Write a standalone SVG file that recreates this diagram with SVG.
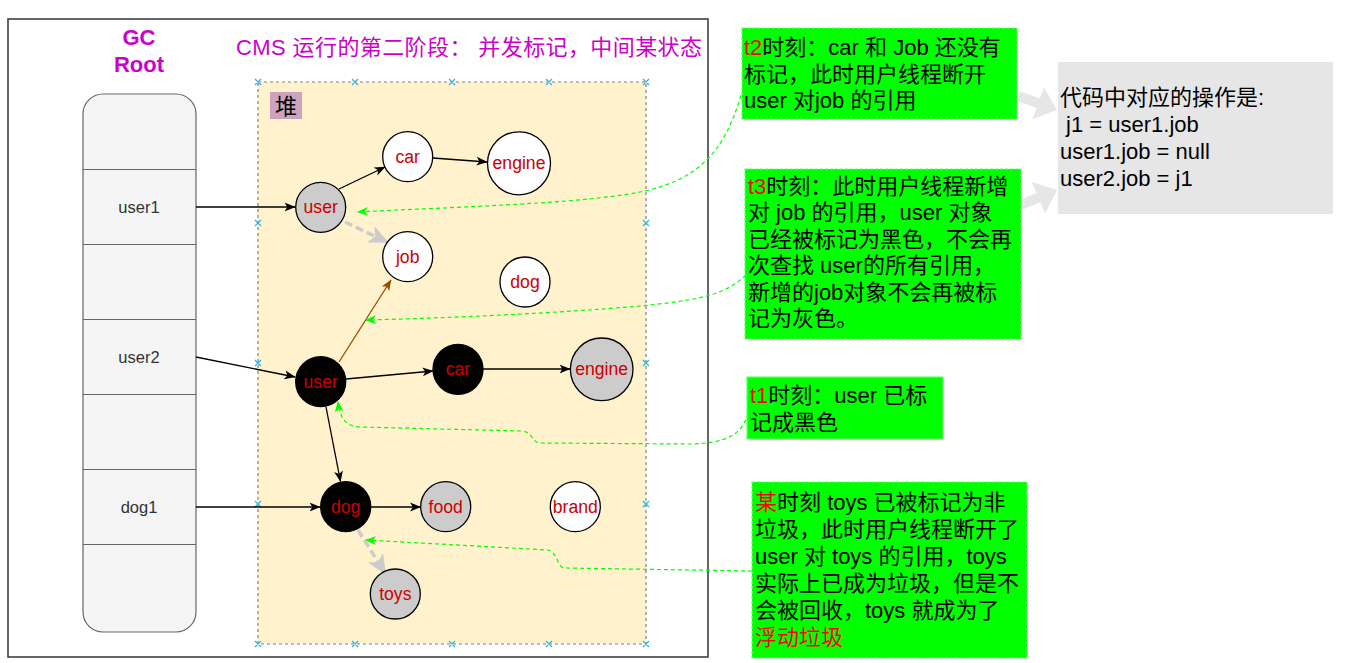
<svg xmlns="http://www.w3.org/2000/svg" width="1348" height="663" viewBox="0 0 1348 663">
<style>
.t{font-family:"Liberation Sans","Noto Sans CJK SC",sans-serif;}
.big{font-size:22px;fill:#000;}
.lbl{font-size:17.6px;fill:#CC0000;text-anchor:middle;}
.stk{font-size:16.5px;fill:#333;text-anchor:middle;}
.red{fill:#FF0000;}
.c{stroke:#000;stroke-width:1.3;}
.e{fill:none;stroke:#000;stroke-width:1.3;marker-end:url(#ab);}
.g{fill:none;stroke:#00FF00;stroke-width:1.2;stroke-dasharray:4 3;marker-end:url(#ag);}
.gd{fill:none;stroke:#CCCCCC;stroke-width:3.5;stroke-dasharray:8 4;marker-end:url(#agr);}
.gb{fill:#00FF00;stroke:#66FF66;stroke-width:1.2;stroke-dasharray:3 2;}
.mk{stroke:#29B6F2;stroke-width:1.3;fill:none;}
</style>
<defs>
<marker id="ab" viewBox="0 0 10 10" refX="9.5" refY="5" markerWidth="11" markerHeight="11" markerUnits="userSpaceOnUse" orient="auto"><path d="M0,1 L10,5 L0,9 L2.5,5 Z" fill="#000"/></marker>
<marker id="abr" viewBox="0 0 10 10" refX="9.5" refY="5" markerWidth="11" markerHeight="11" markerUnits="userSpaceOnUse" orient="auto"><path d="M0,1 L10,5 L0,9 L2.5,5 Z" fill="#994C00"/></marker>
<marker id="ag" viewBox="0 0 10 10" refX="9" refY="5" markerWidth="11" markerHeight="11" markerUnits="userSpaceOnUse" orient="auto"><path d="M0,1 L10,5 L0,9 L2.5,5 Z" fill="#00FF00"/></marker>
<marker id="agr" viewBox="0 0 10 10" refX="9" refY="5" markerWidth="20" markerHeight="20" markerUnits="userSpaceOnUse" orient="auto"><path d="M0,0.5 L10,5 L0,9.5 L2.5,5 Z" fill="#CCCCCC"/></marker>
</defs>

<rect x="8" y="19" width="700" height="638" fill="#fff" stroke="#333" stroke-width="1.5"/>

<g id="title"><text class="t" x="236" y="55" font-size="22" fill="#CC00CC" textLength="466" lengthAdjust="spacing">CMS 运行的第二阶段： 并发标记，中间某状态</text></g>

<g id="gcroot">
<text class="t" x="139" y="45" font-size="22" font-weight="bold" fill="#CC00CC" text-anchor="middle">GC</text>
<text class="t" x="139" y="72" font-size="22" font-weight="bold" fill="#CC00CC" text-anchor="middle">Root</text>
</g>

<g id="stack">
<rect x="83" y="94" width="113" height="538" rx="20" fill="#F5F5F5" stroke="#666" stroke-width="1.2"/>
<path d="M83 169.5H196M83 244.5H196M83 319.5H196M83 394.5H196M83 469.5H196M83 544.5H196" stroke="#666" stroke-width="1.2"/>
<text class="t stk" x="139" y="213">user1</text>
<text class="t stk" x="139" y="363">user2</text>
<text class="t stk" x="139" y="513">dog1</text>
</g>

<g id="heap">
<rect x="258" y="82" width="388" height="562" fill="#FFF2CC" stroke="#808080" stroke-width="1.2" stroke-dasharray="3 3"/>
<rect x="270" y="92" width="32" height="27" fill="#CDA2BE"/>
<text class="t" x="275" y="114" font-size="22" fill="#000">堆</text>
<g class="mk">
<path d="M255 79l6 6m0-6l-6 6M352 79l6 6m0-6l-6 6M449 79l6 6m0-6l-6 6M546 79l6 6m0-6l-6 6M643 79l6 6m0-6l-6 6"/>
<path d="M255 641l6 6m0-6l-6 6M352 641l6 6m0-6l-6 6M449 641l6 6m0-6l-6 6M546 641l6 6m0-6l-6 6M643 641l6 6m0-6l-6 6"/>
<path d="M255 220l6 6m0-6l-6 6M255 360l6 6m0-6l-6 6M255 501l6 6m0-6l-6 6"/>
<path d="M643 220l6 6m0-6l-6 6M643 360l6 6m0-6l-6 6M643 501l6 6m0-6l-6 6"/>
</g>
</g>

<g id="connectors">
<path class="e" d="M196 207H295"/>
<path class="e" d="M339 189L385 167"/>
<path class="e" d="M433 158L487 162"/>
<path class="gd" d="M345 222L387 242"/>
<path class="e" d="M196 357L295 377"/>
<path class="e" d="M346 379L433 371"/>
<path class="e" d="M483 369H570"/>
<path fill="none" stroke="#994C00" stroke-width="1.3" marker-end="url(#abr)" d="M339 362L391 280"/>
<path class="e" d="M326 407L340.5 481.5"/>
<path class="e" d="M196 507H320"/>
<path class="e" d="M371 507H420.5"/>
<path class="gd" d="M358 530L385 573"/>
<path class="g" d="M741 95C725 150 700 180 640 192C580 204 450 207 358 212"/>
<path class="g" d="M746 275C725 295 700 300 640 306C560 313 450 318 366 320"/>
<path class="g" d="M748 413C742 436 725 443 690 444L540 443C532 443 533 432 522 431L360 427C345 426 340 418 338 402"/>
<path class="g" d="M752 571L565 568C557 568 558 552 548 550L366 540"/>
<polygon fill="#E6E6E6" points="1019.7,91.3 1039.9,98.5 1043.9,87.2 1057,110 1032.5,119.2 1036.5,107.9 1016.3,100.7"/>
<polygon fill="#E6E6E6" points="1019.1,200.4 1036.6,193.1 1032,182 1057,190 1045,213.4 1040.4,202.3 1022.9,209.6"/>
</g>

<g id="n-user-gray"><circle class="c" cx="320.7" cy="207.3" r="25" fill="#CCCCCC"/><text class="t lbl" x="320.7" y="213.3">user</text></g>
<g id="n-car-white"><circle class="c" cx="407.7" cy="156.7" r="25" fill="#fff"/><text class="t lbl" x="407.7" y="162.7">car</text></g>
<g id="n-engine-white"><circle class="c" cx="519" cy="163.3" r="31.5" fill="#fff"/><text class="t lbl" x="519" y="169.3">engine</text></g>
<g id="n-job"><circle class="c" cx="407.7" cy="256.7" r="25" fill="#fff"/><text class="t lbl" x="407.7" y="262.7">job</text></g>
<g id="n-dog-white"><circle class="c" cx="525" cy="282" r="25" fill="#fff"/><text class="t lbl" x="525" y="288">dog</text></g>
<g id="n-user-black"><circle class="c" cx="320.7" cy="381.7" r="25" fill="#000"/><text class="t lbl" x="320.7" y="387.7">user</text></g>
<g id="n-car-black"><circle class="c" cx="458" cy="369.3" r="25" fill="#000"/><text class="t lbl" x="458" y="375.3">car</text></g>
<g id="n-engine-gray"><circle class="c" cx="601.7" cy="369.3" r="31.3" fill="#CCCCCC"/><text class="t lbl" x="601.7" y="375.3">engine</text></g>
<g id="n-dog-black"><circle class="c" cx="345.7" cy="506.7" r="25" fill="#000"/><text class="t lbl" x="345.7" y="512.7">dog</text></g>
<g id="n-food"><circle class="c" cx="445.7" cy="506.7" r="25" fill="#CCCCCC"/><text class="t lbl" x="445.7" y="512.7">food</text></g>
<g id="n-brand"><circle class="c" cx="575.3" cy="506.7" r="25" fill="#fff"/><text class="t lbl" x="575.3" y="512.7">brand</text></g>
<g id="n-toys"><circle class="c" cx="395.3" cy="594" r="25" fill="#CCCCCC"/><text class="t lbl" x="395.3" y="600">toys</text></g>

<g id="note-t2">
<rect class="gb" x="742" y="28" width="275" height="91"/>
<text class="t big" x="744" y="55"><tspan class="red">t2</tspan>时刻：car 和 Job 还没有</text>
<text class="t big" x="744" y="81.5">标记，此时用户线程断开</text>
<text class="t big" x="744" y="108">user 对job 的引用</text>
</g>

<g id="note-t3">
<rect class="gb" x="745" y="169" width="276" height="170"/>
<text class="t big" x="748" y="194"><tspan class="red">t3</tspan>时刻：此时用户线程新增</text>
<text class="t big" x="748" y="220.4">对 job 的引用，user 对象</text>
<text class="t big" x="748" y="246.8">已经被标记为黑色，不会再</text>
<text class="t big" x="748" y="273.2">次查找 user的所有引用，</text>
<text class="t big" x="748" y="299.6">新增的job对象不会再被标</text>
<text class="t big" x="748" y="326">记为灰色。</text>
</g>

<g id="note-t1">
<rect x="747" y="377" width="196" height="62" fill="#00FF00" stroke="#66FF66" stroke-width="1.2"/>
<text class="t big" x="750" y="403"><tspan class="red">t1</tspan>时刻：user 已标</text>
<text class="t big" x="750" y="429.5">记成黑色</text>
</g>

<g id="note-some">
<rect class="gb" x="752" y="482" width="275" height="176"/>
<text class="t big" x="755" y="510"><tspan class="red">某</tspan>时刻 toys 已被标记为非</text>
<text class="t big" x="755" y="537">垃圾，此时用户线程断开了</text>
<text class="t big" x="755" y="564">user 对 toys 的引用，toys</text>
<text class="t big" x="755" y="591">实际上已成为垃圾，但是不</text>
<text class="t big" x="755" y="618">会被回收，toys 就成为了</text>
<text class="t big red" x="755" y="645">浮动垃圾</text>
</g>

<g id="code-box">
<rect x="1058" y="62" width="275" height="152" fill="#E6E6E6"/>
<text class="t big" x="1060" y="105">代码中对应的操作是:</text>
<text class="t big" x="1060" y="132" xml:space="preserve"> j1 = user1.job</text>
<text class="t big" x="1060" y="159">user1.job = null</text>
<text class="t big" x="1060" y="186">user2.job = j1</text>
</g>
</svg>
